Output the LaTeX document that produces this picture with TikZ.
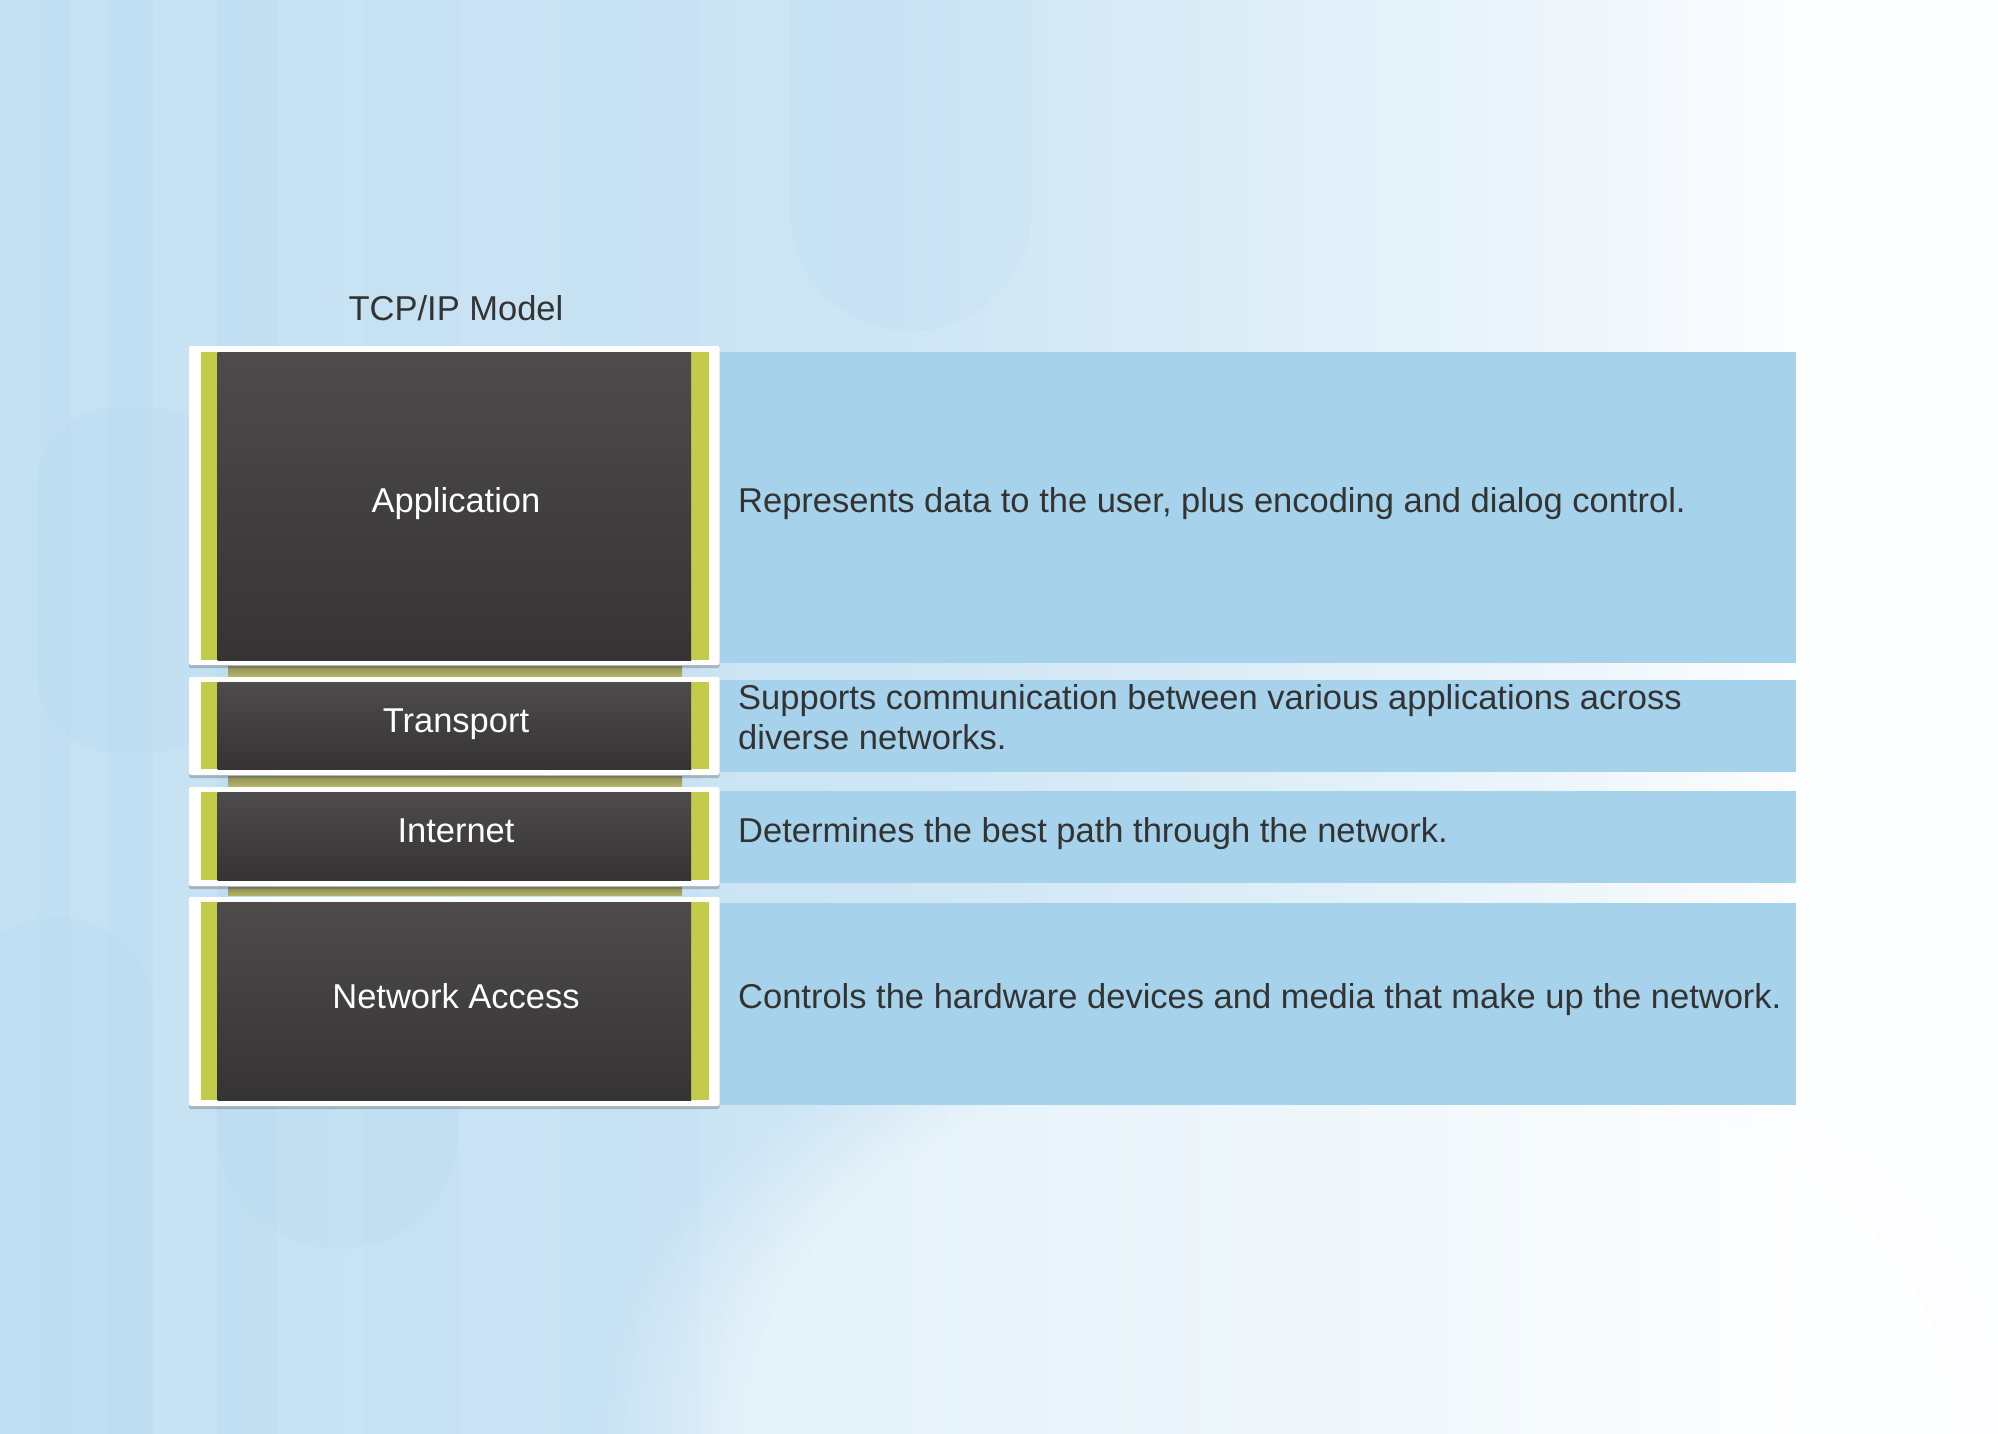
\documentclass[tikz,border=0pt]{standalone}
\usepackage{fontspec}
\setmainfont{Liberation Sans}
\usetikzlibrary{shadows,fadings}
\definecolor{panel}{HTML}{A6D3EB}
\definecolor{darkT}{HTML}{4D4B4C}
\definecolor{darkB}{HTML}{353334}
\definecolor{lime}{HTML}{C3CB4A}
\definecolor{oliveT}{HTML}{8E8D55}
\definecolor{oliveB}{HTML}{B4B468}
\definecolor{txt}{HTML}{333333}
\definecolor{bgA}{HTML}{C4E1F3}
\definecolor{bgB}{HTML}{CDE5F4}
\definecolor{bgC}{HTML}{E4F1F9}
\definecolor{bgD}{HTML}{FCFDFF}
\definecolor{stripe}{HTML}{AFD6EE}
\pgfdeclarehorizontalshading{bgshade}{100bp}{color(0bp)=(bgA); color(25bp)=(bgA); color(47bp)=(bgB); color(60bp)=(bgC); color(70bp)=(bgD); color(100bp)=(bgD)}
\begin{document}
\begin{tikzpicture}[x=1pt,y=-1pt,
  lbl/.style={font=\fontsize{34.5}{40}\selectfont},
  frame/.style={fill=white, draw=none, rounded corners=2pt, inner sep=0pt,
    drop shadow={shadow xshift=0pt, shadow yshift=-3pt, opacity=0.3, fill=black!70}},
  limebox/.style={fill=lime, draw=none, inner sep=0pt},
  darkbox/.style={top color=darkT, bottom color=darkB, draw=none, inner sep=0pt},
  panelbox/.style={fill=panel, draw=none, inner sep=0pt},
  link/.style={top color=oliveT, bottom color=oliveB, draw=none, inner sep=0pt},
  layername/.style={lbl, text=white, anchor=base, inner sep=0pt},
  desc/.style={lbl, text=txt, anchor=base west, align=left, inner sep=0pt},
  capsule/.style={fill=stripe, opacity=0.14, draw=none},
  band/.style={fill=stripe, opacity=0.18, draw=none}]
% background
\useasboundingbox (0,0) rectangle (1998,1434);
\shade[shading=bgshade] (0,0) rectangle (1998,1434);
\fill[band] (38,0) rectangle (70,1434);
\fill[band] (108,0) rectangle (153,1434);
\fill[band] (217,0) rectangle (277,1434);
\fill[band, opacity=0.1] (363,0) rectangle (459,1434);
\fill[band, opacity=0.08] (560,0) rectangle (700,1434);
\fill[capsule, rounded corners=121pt] (790,-300) rectangle (1032,331);
\fill[capsule, rounded corners=121pt] (217,700) rectangle (459,1249);
\fill[capsule, rounded corners=95pt] (-40,917) rectangle (153,1600);
\fill[capsule, rounded corners=76pt] (38,408) rectangle (230,752);
\fill[white, opacity=0.5, path fading=circle with fuzzy edge 20 percent] (1350,1434) ellipse [x radius=750, y radius=500];
% title
\node[lbl, text=txt, anchor=base, inner sep=0pt] (title) at (456,320) {TCP/IP Model};
% links between layers
\node[link, minimum width=454pt, minimum height=10pt] (l1) at (455,671) {};
\node[link, minimum width=454pt, minimum height=10pt] (l2) at (455,781) {};
\node[link, minimum width=454pt, minimum height=8pt] (l3) at (455,891.5) {};
% frames
\node[frame, minimum width=530.5pt, minimum height=319pt] (fApp) at (454.25,505.5) {};
\node[frame, minimum width=530.5pt, minimum height=98pt] (fTra) at (454.25,726) {};
\node[frame, minimum width=530.5pt, minimum height=99pt] (fInt) at (454.25,836.5) {};
\node[frame, minimum width=530.5pt, minimum height=209pt] (fNet) at (454.25,1001.5) {};
% lime strips
\node[limebox, minimum width=507.5pt, minimum height=308pt] (yApp) at (454.75,506) {};
\node[limebox, minimum width=507.5pt, minimum height=87pt] (yTra) at (454.75,725.5) {};
\node[limebox, minimum width=507.5pt, minimum height=88pt] (yInt) at (454.75,836) {};
\node[limebox, minimum width=507.5pt, minimum height=198pt] (yNet) at (454.75,1001) {};
% dark boxes
\node[darkbox, minimum width=473.5pt, minimum height=308pt] (dApp) at (454.25,506) {};
\node[darkbox, minimum width=473.5pt, minimum height=87pt] (dTra) at (454.25,725.5) {};
\node[darkbox, minimum width=473.5pt, minimum height=88pt] (dInt) at (454.25,836) {};
\node[darkbox, minimum width=473.5pt, minimum height=198pt] (dNet) at (454.25,1001) {};
% layer names
\node[layername] (nApp) at (456,512) {Application};
\node[layername] (nTra) at (456,732) {Transport};
\node[layername] (nInt) at (456,842) {Internet};
\node[layername] (nNet) at (456,1008) {Network Access};
% description panels
\node[panelbox, minimum width=1076pt, minimum height=311pt] (pApp) at (1258,507.5) {};
\node[panelbox, minimum width=1076pt, minimum height=92pt] (pTra) at (1258,726) {};
\node[panelbox, minimum width=1076pt, minimum height=92pt] (pInt) at (1258,837) {};
\node[panelbox, minimum width=1076pt, minimum height=202pt] (pNet) at (1258,1004) {};
% descriptions
\node[desc] (tApp) at (738,512) {Represents data to the user, plus encoding and dialog control.};
\node[desc] (tTra) at (738,749) {Supports communication between various applications across\\diverse networks.};
\node[desc] (tInt) at (738,842) {Determines the best path through the network.};
\node[desc] (tNet) at (738,1008) {Controls the hardware devices and media that make up the network.};
\end{tikzpicture}
\end{document}
